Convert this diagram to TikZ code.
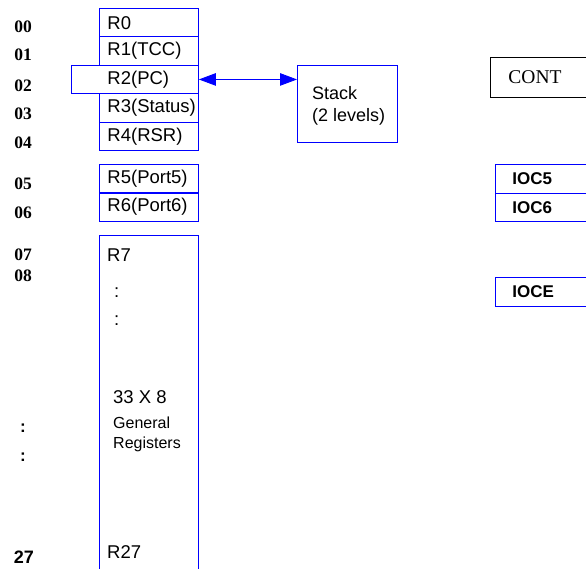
\documentclass[tikz,border=0pt]{standalone}
\usepackage{fontspec}
\setmainfont{Liberation Serif}
\setsansfont{Liberation Sans}
\usetikzlibrary{arrows.meta}
\tikzset{
  reg/.style={draw=blue, line width=0.9pt, anchor=north west, minimum height=28.4pt,
    inner xsep=8pt, inner ysep=0pt, text width=83pt, align=left,
    font=\sffamily\fontsize{18.5}{20}\selectfont},
  ioc/.style={draw=blue, line width=0.9pt, anchor=north west, minimum height=28.5pt,
    inner xsep=17pt, inner ysep=0pt, text width=61pt, align=left,
    font=\sffamily\bfseries\fontsize{17}{20}\selectfont},
  addr/.style={font=\rmfamily\bfseries\fontsize{17.5}{20}\selectfont, inner sep=0pt},
  rtxt/.style={anchor=west, inner sep=0pt, font=\sffamily\fontsize{18.5}{20}\selectfont},
  stxt/.style={anchor=west, inner sep=0pt, font=\sffamily\fontsize{16}{20}\selectfont},
  bighead/.tip={Triangle[length=17pt,width=12.5pt]},
}
\begin{document}
\begin{tikzpicture}[x=1pt, y=-1pt]
\useasboundingbox (0,0) rectangle (586,568);
% addresses
\node[addr] (a00) at (23,27) {00};
\node[addr] (a01) at (23,55) {01};
\node[addr] (a02) at (23,86) {02};
\node[addr] (a03) at (23,114) {03};
\node[addr] (a04) at (23,142.5) {04};
\node[addr] (a05) at (23,184) {05};
\node[addr] (a06) at (23,213) {06};
\node[addr] (a07) at (23,255) {07};
\node[addr] (a08) at (23,276) {08};
\node[addr, font=\sffamily\bfseries\fontsize{17}{20}\selectfont] (ad1) at (23,428) {:};
\node[addr, font=\sffamily\bfseries\fontsize{17}{20}\selectfont] (ad2) at (23,457) {:};
\node[addr, font=\sffamily\bfseries\fontsize{18}{20}\selectfont] (a27) at (24,557.5) {27};
% registers
\node[reg] (r0) at (99,8) {R0};
\node[reg] (r1) at (99,36.4) {R1(TCC)};
\node[reg, text width=111pt] (r2) at (71,64.8) {\hspace*{28pt}R2(PC)};
\node[reg] (r3) at (99,93.2) {R3(Status)};
\node[reg] (r4) at (99,121.6) {R4(RSR)};
\node[reg] (r5) at (99,164) {R5(Port5)};
\node[reg] (r6) at (99,192.5) {R6(Port6)};
% stack
\node[draw=blue, line width=0.9pt, anchor=north west, minimum width=100pt, minimum height=77pt,
  inner sep=0pt] (stack) at (297,65) {};
\node[rtxt, font=\sffamily\fontsize{18}{20}\selectfont] (st1) at (312,93.5) {Stack};
\node[rtxt, font=\sffamily\fontsize{18}{20}\selectfont] (st2) at (312,116.5) {(2 levels)};
\draw[blue, line width=0.9pt, {bighead}-{bighead}]
  (r2.east) -- (stack.west |- r2.east);
% clipped parts
\begin{scope}
\clip (0,0) rectangle (586,568);
\node[draw=blue, line width=0.9pt, anchor=north west, minimum width=99pt, minimum height=345pt,
  inner sep=0pt] (r7) at (99,235) {};
\node[draw=black, line width=0.9pt, anchor=north west, minimum width=100pt, minimum height=40pt,
  inner xsep=18pt, inner ysep=0pt, text width=64pt, align=left,
  font=\rmfamily\fontsize{19.5}{20}\selectfont] (cont) at (490,57) {CONT};
\node[ioc] (ioc5) at (495,164) {IOC5};
\node[ioc] (ioc6) at (495,192.5) {IOC6};
\node[ioc] (ioce) at (495,277) {IOCE};
\end{scope}
% R7 contents
\node[rtxt] (r7t) at (107,255) {R7};
\node[rtxt] (d1) at (114,293) {:};
\node[rtxt] (d2) at (114,321) {:};
\node[rtxt] (g1) at (113,397) {33 X 8};
\node[stxt] (g2) at (113,423) {General};
\node[stxt] (g3) at (113,444) {Registers};
\node[rtxt] (r27) at (107,552) {R27};
\end{tikzpicture}
\end{document}
